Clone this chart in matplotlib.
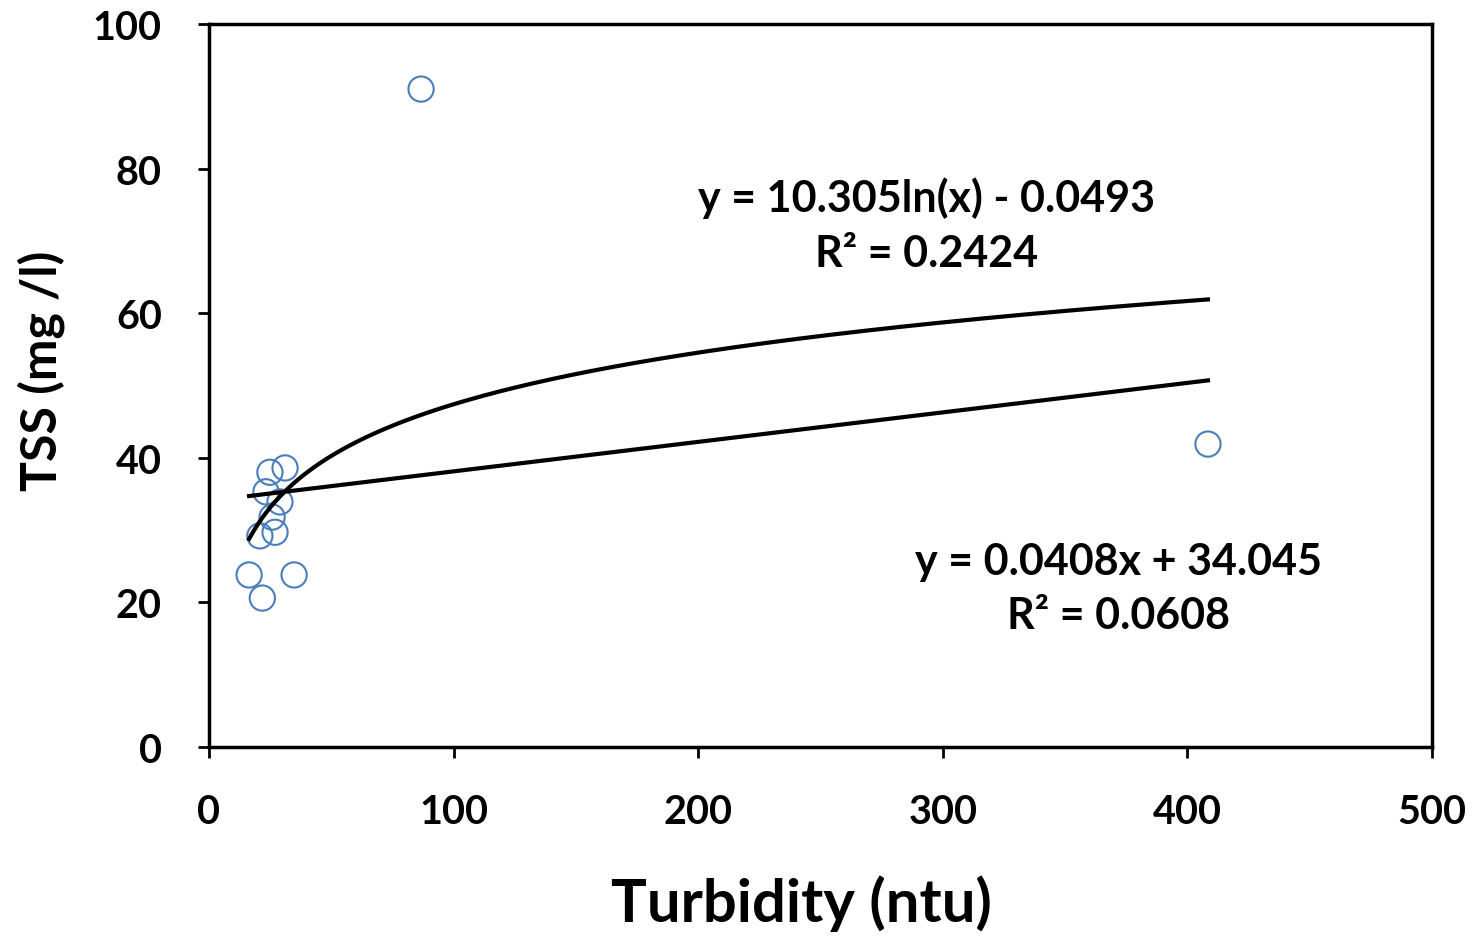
import numpy as np
import matplotlib.pyplot as plt

# data
turbidity = [24.9, 31.1, 23.3, 29.0, 25.8, 27.0, 20.8, 16.4, 34.8, 21.8, 86.7, 408.4]
tss = [38.0, 38.6, 35.3, 33.9, 31.8, 29.7, 29.2, 23.8, 23.8, 20.6, 91.0, 41.9]

# trend line coefficients as printed on the chart
log_a, log_b = 10.305, -0.0493
lin_a, lin_b = 0.0408, 34.045

plt.rcParams["font.family"] = ["Lato", "DejaVu Sans"]
plt.rcParams["font.weight"] = "bold"

fig = plt.figure(figsize=(14.78, 9.37), dpi=100)
ax = fig.add_axes([0.1414, 0.2017, 0.8275, 0.7716])

ax.scatter(turbidity, tss, s=330, facecolors="none", edgecolors="#4a7ebb", linewidths=1.5, zorder=3)

xs = np.linspace(min(turbidity), max(turbidity), 300)
ax.plot(xs, log_a * np.log(xs) + log_b, color="black", lw=3.0, zorder=4)
ax.plot(xs, lin_a * xs + lin_b, color="black", lw=3.0, zorder=4)

ax.text(293.5, 72.3, "y = 10.305ln(x) - 0.0493\nR² = 0.2424", ha="center", va="center",
        fontsize=31, fontweight="bold", linespacing=1.45)
ax.text(372, 22.0, "y = 0.0408x + 34.045\nR² = 0.0608", ha="center", va="center",
        fontsize=31, fontweight="bold", linespacing=1.45)

ax.set_xlim(0, 500)
ax.set_ylim(0, 100)
ax.set_xticks([0, 100, 200, 300, 400, 500])
ax.set_yticks([0, 20, 40, 60, 80, 100])
ax.tick_params(direction="out", length=8, width=2, labelsize=28.5)
ax.tick_params(axis="x", pad=25)
ax.tick_params(axis="y", pad=26)
for lab in ax.get_xticklabels() + ax.get_yticklabels():
    lab.set_fontweight("bold")
for sp in ax.spines.values():
    sp.set_linewidth(2.5)

ax.set_xlabel("Turbidity (ntu)", fontsize=43, fontweight="bold", va="center")
ax.set_ylabel("TSS (mg /l)", fontsize=36, fontweight="bold", labelpad=20)
ax.xaxis.set_label_coords(0.484, -0.215)
ax.yaxis.label.set_y(0.522)

fig.savefig("out.png", dpi=100)
